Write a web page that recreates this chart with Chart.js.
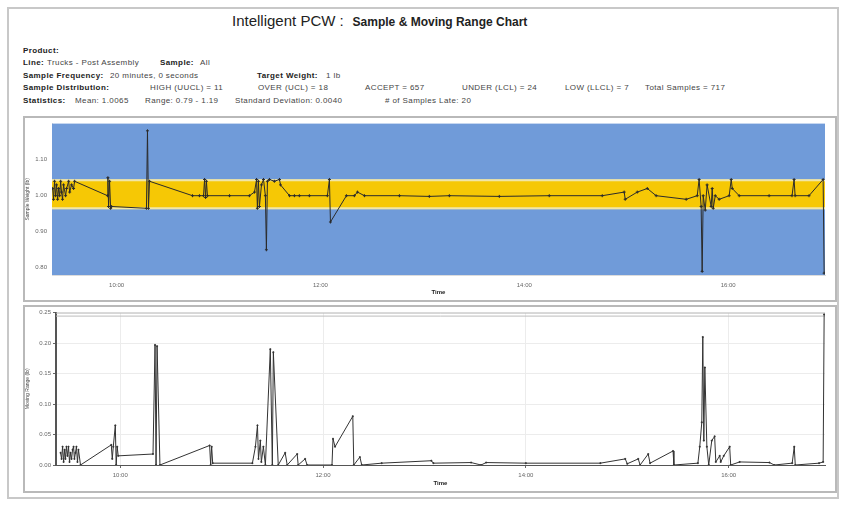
<!DOCTYPE html>
<html>
<head>
<meta charset="utf-8">
<script src="https://cdn.jsdelivr.net/npm/chart.js@4.4.1/dist/chart.umd.min.js"></script>
<style>
  body { margin: 0; background: #fff; font-family: "Liberation Sans", Arial, sans-serif; }
  #page { position: relative; width: 844px; height: 506px; overflow: hidden; }
  #frame { position: absolute; left: 7px; top: 7px; width: 828px; height: 488px; border: 2px solid #c8c8c8; }
  .panel { position: absolute; left: 23px; width: 810px; border: 2px solid #b9b9b9; background: #fff; }
  .title { position: absolute; top: 12px; left: 232px; white-space: nowrap; color: #222; }
  .title .a { font-size: 15px; }
  .title .b { font-size: 12px; font-weight: bold; }
  .hdr { position: absolute; font-size: 8px; letter-spacing: 0.4px; color: #444; white-space: nowrap; }
  .hdr b { color: #222; }
  .box { position: absolute; }
</style>
</head>
<body>
<div id="page">
  <div id="frame"></div>
  <div class="title"><span class="a">Intelligent PCW :</span>&nbsp; <span class="b">Sample &amp; Moving Range Chart</span></div>

  <div class="hdr" style="left:23px;top:46px"><b>Product:</b></div>
  <div class="hdr" style="left:23px;top:58px"><b>Line:</b></div>
  <div class="hdr" style="left:47px;top:58px">Trucks - Post Assembly</div>
  <div class="hdr" style="left:160px;top:58px"><b>Sample:</b></div>
  <div class="hdr" style="left:200px;top:58px">All</div>
  <div class="hdr" style="left:23px;top:71px"><b>Sample Frequency:</b></div>
  <div class="hdr" style="left:110px;top:71px">20 minutes, 0 seconds</div>
  <div class="hdr" style="left:257px;top:71px"><b>Target Weight:</b></div>
  <div class="hdr" style="left:326px;top:71px">1 lb</div>
  <div class="hdr" style="left:23px;top:83px"><b>Sample Distribution:</b></div>
  <div class="hdr" style="left:150px;top:83px">HIGH (UUCL) = 11</div>
  <div class="hdr" style="left:258px;top:83px">OVER (UCL) = 18</div>
  <div class="hdr" style="left:365px;top:83px">ACCEPT = 657</div>
  <div class="hdr" style="left:462px;top:83px">UNDER (LCL) = 24</div>
  <div class="hdr" style="left:565px;top:83px">LOW (LLCL) = 7</div>
  <div class="hdr" style="left:645px;top:83px">Total Samples = 717</div>
  <div class="hdr" style="left:23px;top:96px"><b>Statistics:</b></div>
  <div class="hdr" style="left:75px;top:96px">Mean: 1.0065</div>
  <div class="hdr" style="left:145px;top:96px">Range: 0.79 - 1.19</div>
  <div class="hdr" style="left:235px;top:96px">Standard Deviation: 0.0040</div>
  <div class="hdr" style="left:385px;top:96px"># of Samples Late: 20</div>

  <div class="panel" style="top:116px;height:182px"></div>
  <div class="panel" style="top:305px;height:184px"></div>

  <div class="box" style="left:25px;top:118px;width:808px;height:182px"><canvas id="sampleChart"></canvas></div>
  <div class="box" style="left:25px;top:307px;width:808px;height:184px"><canvas id="rangeChart"></canvas></div>
</div>

<script>
// time axis in minutes since midnight
const timeMin = 562;
const timeMax = 1017;
const timeTicks = [600, 720, 840, 960];

// sample weight chart
const weightTicks = [0.80, 0.90, 1.00, 1.10];
const weightMin = 0.78;
const weightMax = 1.20;
const outerBand = [0.962, 1.046];
const innerBand = [0.968, 1.040];

const sampleTime = [
  562.4, 562.9, 563.5, 564.1, 564.7, 565.3, 565.9, 566.5, 567.1, 567.6, 568.2, 568.8, 570.0, 570.6, 571.8, 572.4, 573.5, 574.7, 575.3,
  594.7, 594.9, 595.3, 595.9, 596.5, 597.1, 617.6, 618.2, 618.8, 619.4, 644.7, 648.8, 651.2, 651.8, 652.4, 652.9, 653.5,
  666.5, 678.2, 681.2, 682.4, 682.9, 683.5, 684.1, 685.3, 686.5, 687.6, 688.2, 688.8, 690.0, 692.9, 695.9, 696.5,
  701.8, 704.7, 707.6, 713.5, 724.1, 725.3, 725.9, 735.3, 740.0, 741.8, 745.9, 766.5, 784.1, 795.9, 825.3, 854.7, 885.9,
  898.8, 899.4, 906.5, 912.4, 917.6, 935.3, 941.8, 942.9, 944.1, 944.7, 945.3, 946.5, 947.6, 950.0, 950.6, 951.2, 952.4, 954.7,
  960.6, 961.8, 962.4, 966.5, 984.1, 997.6, 998.8, 999.4, 1007.6, 1015.9, 1016.5
];
const sampleWeight = [
  1.02, 0.99, 1.04, 1.00, 1.03, 0.99, 1.02, 1.00, 1.04, 1.01, 0.99, 1.03, 1.00, 1.02, 1.04, 1.01, 1.03, 1.02, 1.04,
  1.00, 1.05, 0.97, 1.04, 0.965, 0.97, 0.965, 1.18, 0.965, 1.04, 1.00, 1.00, 1.00, 1.045, 0.995, 1.04, 1.00,
  1.00, 1.00, 1.01, 1.045, 0.965, 1.04, 0.97, 1.03, 1.045, 1.00, 0.85, 1.04, 1.045, 1.04, 1.045, 1.03,
  1.00, 1.00, 1.00, 1.00, 1.00, 1.045, 0.927, 1.00, 1.00, 1.01, 1.00, 1.00, 0.998, 1.00, 0.998, 1.00, 1.00,
  1.01, 0.99, 1.01, 1.02, 1.00, 0.99, 1.00, 1.045, 0.97, 0.79, 1.00, 0.96, 1.03, 0.97, 1.02, 0.965, 1.00, 0.99,
  1.00, 1.045, 1.02, 1.00, 1.00, 1.00, 1.045, 1.00, 1.00, 1.045, 0.785
];

// moving range chart
const rangeTicks = [0.00, 0.05, 0.10, 0.15, 0.20, 0.25];
const rangeMin = 0;
const rangeMax = 0.25;

const rangeTime = [
  564.7, 565.3, 565.9, 566.5, 567.1, 567.6, 568.2, 568.8, 569.4, 570.0, 570.6, 571.2, 571.8, 572.4, 572.9, 573.5, 574.1, 574.7, 575.3, 576.5,
  594.7, 595.3, 595.9, 597.1, 597.6, 598.2, 598.8, 619.4, 620.6, 621.2, 621.8, 623.5, 652.9, 653.5, 654.1, 654.7,
  678.2, 680.0, 681.2, 681.8, 682.9, 683.5, 684.7, 685.9, 688.8, 690.0, 690.6, 693.5, 697.6, 698.8, 704.7, 705.3, 709.4, 710.6,
  725.3, 725.9, 727.1, 737.6, 738.2, 741.8, 742.9, 754.7, 784.1, 785.3, 807.6, 813.5, 816.5, 840.0, 884.1,
  898.8, 900.0, 906.5, 907.6, 912.4, 913.5, 927.1, 927.6, 941.8, 942.9, 944.1, 944.7, 945.3, 945.9, 947.1, 948.2, 950.0, 951.7, 952.4,
  954.7, 955.3, 957.1, 960.6, 961.2, 966.5, 984.1, 987.0, 997.6, 998.8, 999.4, 1013.5, 1015.9, 1016.5
];
const rangeValue = [
  0.02, 0.01, 0.03, 0.005, 0.025, 0.01, 0.03, 0.015, 0.03, 0.005, 0.02, 0.01, 0.025, 0.03, 0.01, 0.02, 0.03, 0.005, 0.025, 0.0,
  0.033, 0.01, 0.03, 0.065, 0.0, 0.03, 0.015, 0.018, 0.197, 0.0, 0.195, 0.0, 0.032, 0.0, 0.03, 0.003,
  0.003, 0.03, 0.065, 0.01, 0.04, 0.005, 0.03, 0.0, 0.19, 0.0, 0.185, 0.0, 0.02, 0.0, 0.018, 0.0, 0.01, 0.0,
  0.0, 0.043, 0.03, 0.08, 0.0, 0.013, 0.0, 0.003, 0.007, 0.003, 0.004, 0.0, 0.004, 0.003, 0.003,
  0.01, 0.002, 0.01, 0.0, 0.018, 0.003, 0.023, 0.0, 0.003, 0.03, 0.07, 0.21, 0.04, 0.16, 0.03, 0.0, 0.04, 0.047, 0.005,
  0.015, 0.005, 0.015, 0.03, 0.0, 0.005, 0.004, 0.0, 0.003, 0.03, 0.0, 0.003, 0.005, 0.247
];

function fmtTime(v) {
  const h = Math.floor(v / 60);
  const m = Math.round(v % 60);
  return h + ':' + (m < 10 ? '0' : '') + m;
}

function toPoints(xs, ys) {
  return xs.map((x, i) => ({ x: x, y: ys[i] }));
}

// paints the blue plot background and the yellow accept bands,
// or a double top rule on the plain chart
const bandPlugin = {
  id: 'bands',
  beforeDatasetsDraw(chart, args, opts) {
    const { ctx, chartArea, scales } = chart;
    ctx.save();
    if (opts.on) {
      const y = scales.y;
      ctx.fillStyle = '#709bd9';
      ctx.fillRect(chartArea.left, chartArea.top, chartArea.width, chartArea.height);
      ctx.fillStyle = '#f1e6a6';
      let t = y.getPixelForValue(outerBand[1]), b = y.getPixelForValue(outerBand[0]);
      ctx.fillRect(chartArea.left, t, chartArea.width, b - t);
      ctx.fillStyle = '#f6c805';
      t = y.getPixelForValue(innerBand[1]); b = y.getPixelForValue(innerBand[0]);
      ctx.fillRect(chartArea.left, t, chartArea.width, b - t);
    } else {
      ctx.strokeStyle = '#bdbdbd';
      ctx.lineWidth = 1;
      ctx.beginPath();
      ctx.moveTo(chartArea.left, chartArea.top + 0.5);
      ctx.lineTo(chartArea.right, chartArea.top + 0.5);
      ctx.moveTo(chartArea.left, chartArea.top + 3.5);
      ctx.lineTo(chartArea.right, chartArea.top + 3.5);
      ctx.stroke();
    }
    ctx.restore();
  }
};

function makeChart(id, opt) {
  return new Chart(document.getElementById(id), {
    type: 'line',
    data: {
      datasets: [{
        data: toPoints(opt.xs, opt.ys),
        borderColor: opt.lineColor,
        borderWidth: 1,
        pointRadius: opt.pointRadius,
        pointStyle: 'cross',
        pointBorderColor: opt.lineColor,
        pointBorderWidth: 1,
        tension: 0
      }]
    },
    plugins: [bandPlugin],
    options: {
      responsive: true,
      maintainAspectRatio: false,
      animation: false,
      layout: { padding: { top: opt.padTop, right: 8, left: 0, bottom: 0 } },
      plugins: {
        legend: { display: false },
        tooltip: { enabled: false },
        bands: { on: opt.bands }
      },
      scales: {
        x: {
          type: 'linear',
          min: timeMin,
          max: timeMax,
          afterBuildTicks: s => { s.ticks = timeTicks.map(v => ({ value: v })); },
          afterFit: s => { s.height = opt.xAxisHeight; },
          grid: { display: opt.grid, color: '#ececec', tickLength: 3, tickColor: '#666' },
          border: { display: true, color: opt.bands ? '#dcdcdc' : '#555' },
          ticks: { color: '#666', font: { size: 6, family: 'Liberation Sans' }, padding: 4, maxRotation: 0, callback: v => fmtTime(v) },
          title: { display: true, text: 'Time', align: 'center', color: '#222', font: { size: 6, weight: 'bold', family: 'Liberation Sans' }, padding: { top: 0 } }
        },
        y: {
          min: opt.yMin,
          max: opt.yMax,
          afterBuildTicks: s => { s.ticks = opt.yTicks.map(v => ({ value: v })); },
          afterFit: s => { s.width = opt.yAxisWidth; },
          grid: { display: opt.grid, color: '#ececec', tickLength: 3, tickColor: '#666' },
          border: { display: true, color: opt.bands ? '#dcdcdc' : '#555', width: opt.bands ? 1 : 2 },
          ticks: { color: '#666', font: { size: 6, family: 'Liberation Sans' }, padding: 2, callback: v => v.toFixed(2) },
          title: { display: true, text: opt.yTitle, color: '#444', font: { size: 5, family: 'Liberation Sans' }, padding: 0 }
        }
      }
    }
  });
}

makeChart('sampleChart', {
  xs: sampleTime, ys: sampleWeight, yMin: weightMin, yMax: weightMax, yTicks: weightTicks,
  yTitle: 'Sample Weight (lb)', lineColor: '#2b2b2b', pointRadius: 1.5, bands: true, grid: false,
  padTop: 4, yAxisWidth: 27, xAxisHeight: 25
});

makeChart('rangeChart', {
  xs: rangeTime, ys: rangeValue, yMin: rangeMin, yMax: rangeMax, yTicks: rangeTicks,
  yTitle: 'Moving Range (lb)', lineColor: '#333', pointRadius: 1, bands: false, grid: true,
  padTop: 5, yAxisWidth: 31, xAxisHeight: 26
});
</script>
</body>
</html>
